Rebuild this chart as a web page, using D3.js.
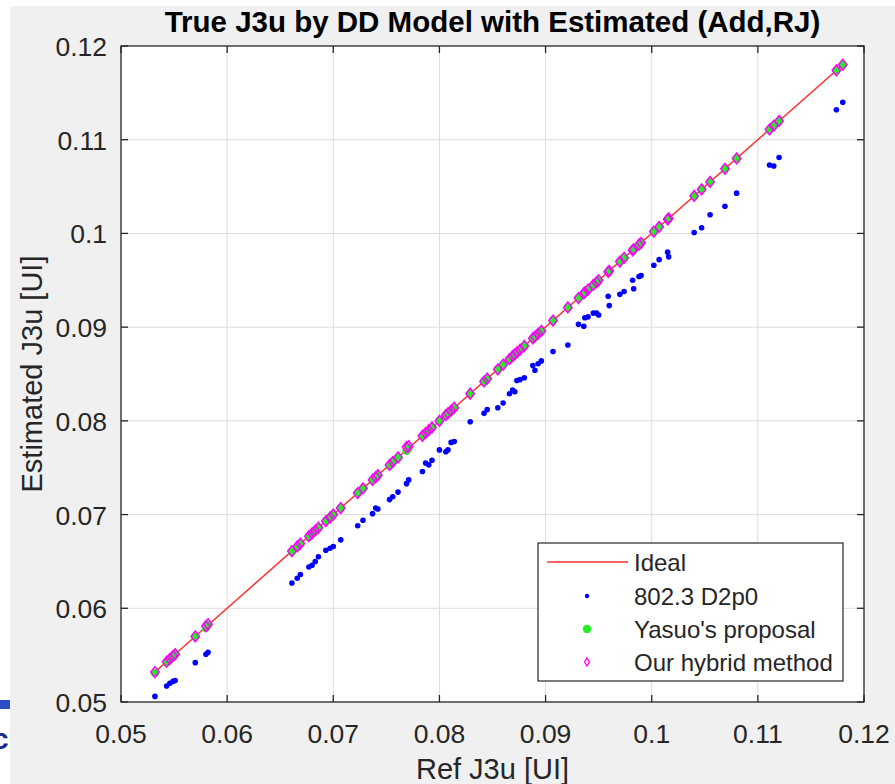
<!DOCTYPE html>
<html>
<head>
<meta charset="utf-8">
<script src="https://cdn.jsdelivr.net/npm/d3@7"></script>
<style>
  html, body { margin: 0; padding: 0; background: #ffffff; }
  svg { display: block; }
  text { font-family: "Liberation Sans", Arial, Helvetica, sans-serif; }
</style>
</head>
<body>
<svg id="chart" width="895" height="784"></svg>
<script>
// Reference J3u values [UI] for each test case
const refJ3u = [
  0.0532, 0.0543, 0.0546, 0.0549, 0.0551, 0.0570, 0.0580, 0.0582,
  0.0661, 0.0666, 0.0669, 0.0677, 0.0680, 0.0683, 0.0686, 0.0693, 0.0697, 0.0700,
  0.0707, 0.0723, 0.0728, 0.0737, 0.0740, 0.0742, 0.0753, 0.0756, 0.0761,
  0.0769, 0.0771, 0.0784, 0.0787, 0.0790, 0.0793, 0.0800, 0.0806, 0.0808, 0.0811, 0.0814,
  0.0829, 0.0842, 0.0845, 0.0855, 0.0860, 0.0866, 0.0869, 0.0871, 0.0873, 0.0876, 0.0880,
  0.0888, 0.0890, 0.0893, 0.0896, 0.0907, 0.0921, 0.0931, 0.0936, 0.0937, 0.0940,
  0.0945, 0.0948, 0.0950, 0.0959, 0.0960, 0.0970, 0.0974, 0.0982, 0.0983, 0.0988, 0.0990,
  0.1002, 0.1007, 0.1015, 0.1016, 0.1040, 0.1047, 0.1055, 0.1069, 0.1080,
  0.1111, 0.1115, 0.1120, 0.1174, 0.1180
];

// Estimated J3u, 802.3 D2p0 method
const d2p0J3u = [
  0.0506, 0.0517, 0.0520, 0.0522, 0.0523, 0.0542, 0.0551, 0.0553,
  0.0627, 0.0632, 0.0636, 0.0644, 0.0646, 0.0650, 0.0655, 0.0662, 0.0664, 0.0666,
  0.0673, 0.0688, 0.0694, 0.0701, 0.0707, 0.0706, 0.0716, 0.0719, 0.0724,
  0.0733, 0.0737, 0.0746, 0.0755, 0.0753, 0.0758, 0.0769, 0.0767, 0.0769, 0.0777, 0.0778,
  0.0799, 0.0808, 0.0812, 0.0814, 0.0819, 0.0829, 0.0833, 0.0831, 0.0843, 0.0844, 0.0846,
  0.0859, 0.0854, 0.0861, 0.0864, 0.0874, 0.0881, 0.0903, 0.0901, 0.0910, 0.0911,
  0.0915, 0.0915, 0.0913, 0.0933, 0.0923, 0.0935, 0.0938, 0.0950, 0.0941, 0.0954, 0.0955,
  0.0966, 0.0972, 0.0980, 0.0975, 0.1001, 0.1006, 0.1020, 0.1029, 0.1043,
  0.1073, 0.1072, 0.1081, 0.1132, 0.1140
];

// Estimated J3u, Yasuo's proposal
const yasuoJ3u = [
  0.0531, 0.0542, 0.0545, 0.0549, 0.0551, 0.0570, 0.0579, 0.0582,
  0.0660, 0.0665, 0.0669, 0.0676, 0.0680, 0.0683, 0.0686, 0.0693, 0.0697, 0.0700,
  0.0707, 0.0723, 0.0728, 0.0737, 0.0740, 0.0742, 0.0752, 0.0756, 0.0761,
  0.0768, 0.0771, 0.0784, 0.0787, 0.0790, 0.0793, 0.0800, 0.0806, 0.0808, 0.0811, 0.0814,
  0.0829, 0.0842, 0.0845, 0.0855, 0.0860, 0.0866, 0.0869, 0.0871, 0.0873, 0.0876, 0.0880,
  0.0888, 0.0890, 0.0893, 0.0896, 0.0907, 0.0921, 0.0931, 0.0936, 0.0937, 0.0940,
  0.0945, 0.0948, 0.0950, 0.0959, 0.0960, 0.0970, 0.0974, 0.0982, 0.0983, 0.0988, 0.0990,
  0.1002, 0.1007, 0.1015, 0.1016, 0.1040, 0.1047, 0.1055, 0.1069, 0.1080,
  0.1111, 0.1115, 0.1120, 0.1174, 0.1180
];

// Estimated J3u, our hybrid method
const hybridJ3u = [
  0.0532, 0.0543, 0.0546, 0.0549, 0.0551, 0.0570, 0.0581, 0.0583,
  0.0661, 0.0666, 0.0669, 0.0677, 0.0680, 0.0683, 0.0686, 0.0693, 0.0697, 0.0700,
  0.0707, 0.0723, 0.0728, 0.0737, 0.0740, 0.0742, 0.0753, 0.0756, 0.0761,
  0.0772, 0.0773, 0.0784, 0.0787, 0.0790, 0.0793, 0.0800, 0.0806, 0.0808, 0.0811, 0.0814,
  0.0829, 0.0842, 0.0845, 0.0855, 0.0860, 0.0866, 0.0869, 0.0871, 0.0873, 0.0876, 0.0880,
  0.0888, 0.0890, 0.0893, 0.0896, 0.0907, 0.0921, 0.0931, 0.0936, 0.0937, 0.0940,
  0.0945, 0.0948, 0.0950, 0.0959, 0.0960, 0.0970, 0.0974, 0.0982, 0.0983, 0.0988, 0.0990,
  0.1002, 0.1007, 0.1015, 0.1016, 0.1040, 0.1047, 0.1055, 0.1069, 0.1080,
  0.1111, 0.1115, 0.1120, 0.1174, 0.1180
];

const xTicks = [0.05, 0.06, 0.07, 0.08, 0.09, 0.1, 0.11, 0.12];
const yTicks = [0.05, 0.06, 0.07, 0.08, 0.09, 0.1, 0.11, 0.12];
const seriesNames = ["Ideal", "802.3 D2p0", "Yasuo's proposal", "Our hybrid method"];

const svg = d3.select("#chart");
const W = 895, H = 784;
const m = { left: 121, right: 864, top: 46, bottom: 702 };

const defs = svg.append("defs");
defs.append("filter").attr("id", "soft")
  .append("feGaussianBlur").attr("stdDeviation", 0.45);

// figure background (with a thin white strip at the left/top edges)
svg.append("rect").attr("x", 0).attr("y", 0).attr("width", W).attr("height", H).attr("fill", "#ffffff");
svg.append("rect").attr("x", 10).attr("y", 6).attr("width", W - 10).attr("height", H - 6).attr("fill", "#f0f0f0");

// window fragment peeking in at the far left edge
defs.append("clipPath").attr("id", "edge")
  .append("rect").attr("x", 0).attr("y", 690).attr("width", 10).attr("height", 70);
const edge = svg.append("g").attr("clip-path", "url(#edge)");
edge.append("rect").attr("x", 0).attr("y", 700).attr("width", 10).attr("height", 9).attr("fill", "#2b4fc0");
edge.append("text").attr("x", -8).attr("y", 749).attr("font-size", 30).attr("font-weight", "bold")
  .attr("fill", "#1a2a8a").text("c");

const x = d3.scaleLinear().domain([0.05, 0.12]).range([m.left, m.right]);
const y = d3.scaleLinear().domain([0.05, 0.12]).range([m.bottom, m.top]);

// plot area
svg.append("rect").attr("x", m.left).attr("y", m.top)
  .attr("width", m.right - m.left).attr("height", m.bottom - m.top).attr("fill", "#ffffff");

// grid
const grid = svg.append("g").attr("stroke", "#dcdcdc").attr("stroke-width", 1);
grid.selectAll("line.vx").data(xTicks.slice(1, -1)).join("line")
  .attr("x1", d => x(d)).attr("x2", d => x(d)).attr("y1", m.top).attr("y2", m.bottom);
grid.selectAll("line.hy").data(yTicks.slice(1, -1)).join("line")
  .attr("y1", d => y(d)).attr("y2", d => y(d)).attr("x1", m.left).attr("x2", m.right);

// ideal line across the data range
const ext = d3.extent(refJ3u);
svg.append("line")
  .attr("x1", x(ext[0])).attr("y1", y(ext[0]))
  .attr("x2", x(ext[1])).attr("y2", y(ext[1]))
  .attr("stroke", "#ff3030").attr("stroke-width", 1.5);

const marks = svg.append("g").attr("filter", "url(#soft)");

// 802.3 D2p0 points
marks.append("g").selectAll("circle").data(refJ3u).join("circle")
  .attr("cx", d => x(d)).attr("cy", (d, i) => y(d2p0J3u[i]))
  .attr("r", 2.8).attr("fill", "#0000ff");

// Yasuo's proposal points
marks.append("g").selectAll("circle").data(refJ3u).join("circle")
  .attr("cx", d => x(d)).attr("cy", (d, i) => y(yasuoJ3u[i]))
  .attr("r", 4.2).attr("fill", "#22ee22");

// hybrid method points (diamonds)
const diamond = (cx, cy, w, h) => `M${cx},${cy - h}L${cx + w},${cy}L${cx},${cy + h}L${cx - w},${cy}Z`;
marks.append("g").selectAll("path").data(refJ3u).join("path")
  .attr("d", (d, i) => diamond(x(d), y(hybridJ3u[i]), 4.2, 5.4))
  .attr("fill", "none").attr("stroke", "#ff00ff").attr("stroke-width", 1.5);

// axes box and inward ticks
const axisColor = "#262626";
const tickLen = 7;
const ax = svg.append("g").attr("stroke", axisColor).attr("stroke-width", 1.3);
ax.append("rect").attr("x", m.left).attr("y", m.top)
  .attr("width", m.right - m.left).attr("height", m.bottom - m.top).attr("fill", "none");
ax.selectAll("line.bt").data(xTicks).join("line")
  .attr("x1", d => x(d)).attr("x2", d => x(d)).attr("y1", m.bottom).attr("y2", m.bottom - tickLen);
ax.selectAll("line.tt").data(xTicks).join("line")
  .attr("x1", d => x(d)).attr("x2", d => x(d)).attr("y1", m.top).attr("y2", m.top + tickLen);
ax.selectAll("line.lt").data(yTicks).join("line")
  .attr("y1", d => y(d)).attr("y2", d => y(d)).attr("x1", m.left).attr("x2", m.left + tickLen);
ax.selectAll("line.rt").data(yTicks).join("line")
  .attr("y1", d => y(d)).attr("y2", d => y(d)).attr("x1", m.right).attr("x2", m.right - tickLen);

// tick labels
const fmt = d => String(+d.toFixed(2));
svg.append("g").selectAll("text").data(xTicks).join("text")
  .attr("x", d => x(d)).attr("y", 743).attr("text-anchor", "middle")
  .attr("font-size", 26.5).attr("fill", axisColor).text(fmt);
svg.append("g").selectAll("text").data(yTicks).join("text")
  .attr("x", 107).attr("y", d => y(d) + 10).attr("text-anchor", "end")
  .attr("font-size", 26.5).attr("fill", axisColor).text(fmt);

// axis labels
svg.append("text").attr("x", (m.left + m.right) / 2).attr("y", 779)
  .attr("text-anchor", "middle").attr("font-size", 29).attr("fill", axisColor).text("Ref J3u [UI]");
svg.append("text").attr("transform", `translate(42,${(m.top + m.bottom) / 2}) rotate(-90)`)
  .attr("text-anchor", "middle").attr("font-size", 29).attr("fill", axisColor).text("Estimated J3u [UI]");

// title
svg.append("text").attr("x", (m.left + m.right) / 2).attr("y", 32)
  .attr("text-anchor", "middle").attr("font-size", 29.5).attr("font-weight", "bold")
  .attr("fill", "#000000").text("True J3u by DD Model with Estimated (Add,RJ)");

// legend
const lg = svg.append("g");
lg.append("rect").attr("x", 538).attr("y", 543).attr("width", 305).attr("height", 138)
  .attr("fill", "#ffffff").attr("stroke", axisColor).attr("stroke-width", 1.2);
const rowY = [562, 596, 629, 662];
const mx = 587;
lg.append("line").attr("x1", 547).attr("x2", 628).attr("y1", rowY[0]).attr("y2", rowY[0])
  .attr("stroke", "#ff3030").attr("stroke-width", 1.5);
lg.append("circle").attr("cx", mx).attr("cy", rowY[1]).attr("r", 2.2).attr("fill", "#0000ff");
lg.append("circle").attr("cx", mx).attr("cy", rowY[2]).attr("r", 4.2).attr("fill", "#22ee22");
lg.append("path").attr("d", diamond(mx, rowY[3], 2.4, 4))
  .attr("fill", "none").attr("stroke", "#ff00ff").attr("stroke-width", 1.4);
lg.selectAll("text").data(seriesNames).join("text")
  .attr("x", 634).attr("y", (d, i) => rowY[i] + 9)
  .attr("font-size", 24).attr("fill", axisColor).text(d => d);
</script>
</body>
</html>
